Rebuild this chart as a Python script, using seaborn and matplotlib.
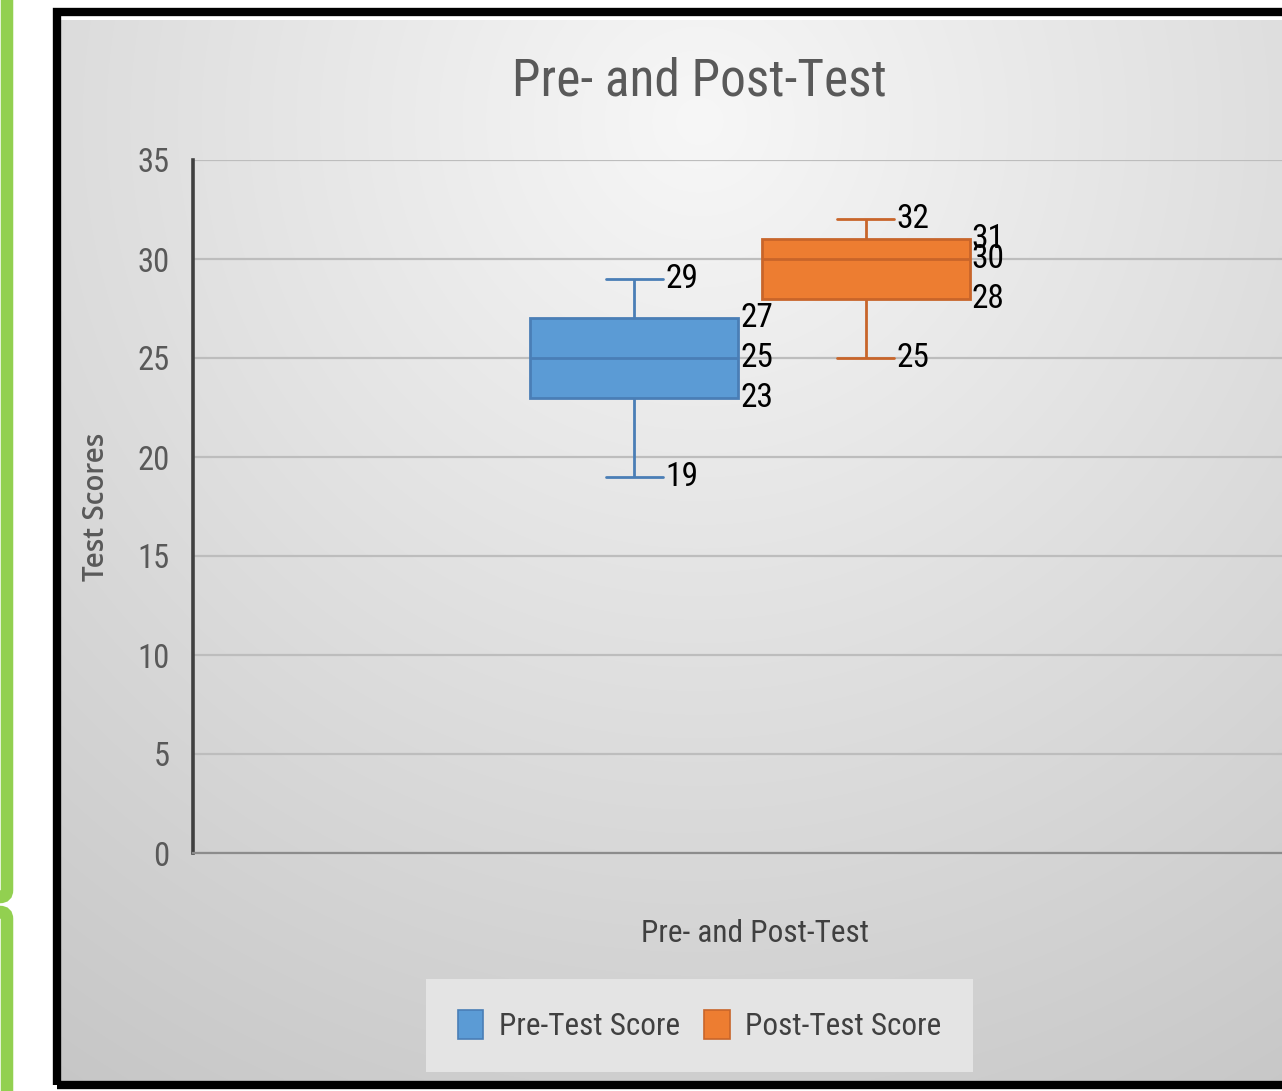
import numpy as np
import pandas as pd
import matplotlib
matplotlib.use("Agg")
import matplotlib.pyplot as plt
import seaborn as sns
from matplotlib.patches import Patch, Rectangle, FancyBboxPatch
from matplotlib.transforms import IdentityTransform
from matplotlib import font_manager

# Five-number summaries (min, Q1, median, Q3, max) for each test
pre_test_scores = [19, 23, 25, 27, 29]
post_test_scores = [25, 28, 30, 31, 32]
series_names = ["Pre-Test Score", "Post-Test Score"]
category = "Pre- and Post-Test"
y_ticks = [0, 5, 10, 15, 20, 25, 30, 35]

fill_colors = ["#5B9BD5", "#ED7D31"]
line_colors = ["#4A7EB6", "#C8652A"]

sns.set_style("white")

# Prefer a narrow sans face for the chart text
narrow_file = None
for f in font_manager.fontManager.ttflist:
    label = (f.name + " " + str(f.stretch)).lower()
    if f.style == "normal" and f.weight in (400, "normal", "regular") and \
            ("narrow" in label or "condensed" in label) and "mono" not in label \
            and "serif" not in label.replace("sans serif", ""):
        narrow_file = f.fname
        if "liberation" in f.name.lower():
            break
if narrow_file:
    font_manager.fontManager.addfont(narrow_file)
    narrow_name = font_manager.FontProperties(fname=narrow_file).get_name()
    scale = 1.0
else:
    narrow_name = "Liberation Sans"
    scale = 0.9
plt.rcParams["font.family"] = [narrow_name, "DejaVu Sans"]

W, H = 1282, 1091
fig = plt.figure(figsize=(W / 100, H / 100), dpi=100, facecolor="white")


def fx(px):
    return px / W


def fy(py):
    return 1 - py / H


# Green bracket outlines at the far left
for y0, y1 in [(-60, 897), (912, H + 60)]:
    fig.patches.append(FancyBboxPatch(
        (-60, H - y1), 67, y1 - y0,
        boxstyle="round,pad=0,rounding_size=7",
        facecolor="none", edgecolor="#92D050", linewidth=9,
        transform=IdentityTransform(), figure=fig))

# Gradient chart-area background
bg = fig.add_axes([fx(61), fy(1081), fx(1282 - 61), (1081 - 20) / H])
gx, gy = np.meshgrid(np.linspace(61, 1282, 300), np.linspace(20, 1081, 300))
dist = np.hypot(gx - 700, (gy - 120) * 1.0)
shade = np.clip(247 - 0.042 * dist, 192, 250) / 255.0
bg.imshow(np.dstack([shade] * 3), extent=[0, 1, 0, 1], aspect="auto",
          interpolation="bilinear")
bg.set_axis_off()
bg.set_zorder(0)

# Black outer frame
fig.patches.append(Rectangle((57, H - 1085), 1400, 1085 - 12,
                             facecolor="none", edgecolor="black", linewidth=6,
                             transform=IdentityTransform(), figure=fig))

# Data in long form
df = pd.DataFrame({
    "Group": [category] * (len(pre_test_scores) + len(post_test_scores)),
    "Test": [series_names[0]] * len(pre_test_scores) + [series_names[1]] * len(post_test_scores),
    "Test Scores": pre_test_scores + post_test_scores,
})

ax = fig.add_axes([fx(193), fy(853), fx(1114), (853 - 160) / H])
ax.set_zorder(2)
ax.patch.set_alpha(0)

sns.boxplot(data=df, x="Group", y="Test Scores", hue="Test",
            palette=fill_colors, saturation=1, width=0.415, gap=0.1,
            whis=(0, 100), linewidth=2, legend=False, ax=ax)

ax.set_ylim(0, 35)
ax.set_xlim(-0.5, 0.5)
ax.set_yticks(y_ticks)
ax.set_yticklabels([str(t) for t in y_ticks])
ax.tick_params(axis="y", length=0, pad=17, labelsize=23.5 * scale, labelcolor="#595959")
ax.tick_params(axis="x", length=0, labelbottom=False)
ax.grid(axis="y", color="#BDBDBD", linewidth=1.6)
ax.set_axisbelow(True)
for side in ["top", "right"]:
    ax.spines[side].set_visible(False)
ax.spines["left"].set_color("#404040")
ax.spines["left"].set_linewidth(2.6)
ax.spines["bottom"].set_color("#8C8C8C")
ax.spines["bottom"].set_linewidth(1.6)

ax.set_ylabel("Test Scores", fontsize=20, color="#595959",
              family=["Open Sans", "DejaVu Sans"], fontweight="semibold")
ax.yaxis.label.set_va("center")
ax.yaxis.set_label_coords((97 - 193) / 1114, 0.5)
ax.set_xlabel(category, fontsize=22.5 * scale, color="#404040")
ax.xaxis.label.set_va("center")
ax.xaxis.set_label_coords((755 - 193) / 1114, -(933 - 853) / 693)

# Recolour outlines, narrow the caps and label the summary values
summaries = [pre_test_scores, post_test_scores]
for cont, lc, values in zip(ax.containers, line_colors, summaries):
    q = np.percentile(values, [0, 25, 50, 75, 100])
    box = cont.boxes[0]
    box.set_edgecolor(lc)
    verts = box.get_path().vertices
    left, right = verts[:, 0].min(), verts[:, 0].max()
    center = (left + right) / 2
    half_cap = 0.137 * (right - left)
    for ln in list(cont.whiskers) + list(cont.medians):
        ln.set_color(lc)
    for cap in cont.caps:
        cap.set_color(lc)
        cap.set_xdata([center - half_cap, center + half_cap])
    for v in (q[0], q[4]):
        ax.annotate(f"{v:g}", (center + half_cap, v), xytext=(2, 0),
                    textcoords="offset points", ha="left", va="center",
                    fontsize=24 * scale, color="black")
    for v in (q[1], q[2], q[3]):
        ax.annotate(f"{v:g}", (right, v), xytext=(1.5, 0),
                    textcoords="offset points", ha="left", va="center",
                    fontsize=24 * scale, color="black")

fig.text(fx(699), fy(82), category, ha="center", va="center",
         fontsize=37 * scale, color="#595959")

handles = [Patch(facecolor=fc, edgecolor=lc, linewidth=1.2)
           for fc, lc in zip(fill_colors, line_colors)]
leg = fig.legend(handles, series_names, loc="center",
                 bbox_to_anchor=(fx(699.5), fy(1025.5)), ncol=2,
                 fontsize=22.5 * scale, frameon=True, fancybox=False,
                 facecolor="#E4E4E4", edgecolor="none", framealpha=1,
                 handlelength=0.83 / scale, handleheight=1.05 / scale,
                 handletextpad=0.5, columnspacing=0.75, borderpad=1.0 / scale)
for t in leg.get_texts():
    t.set_color("#404040")

fig.savefig("out.png", dpi=100, facecolor="white")
